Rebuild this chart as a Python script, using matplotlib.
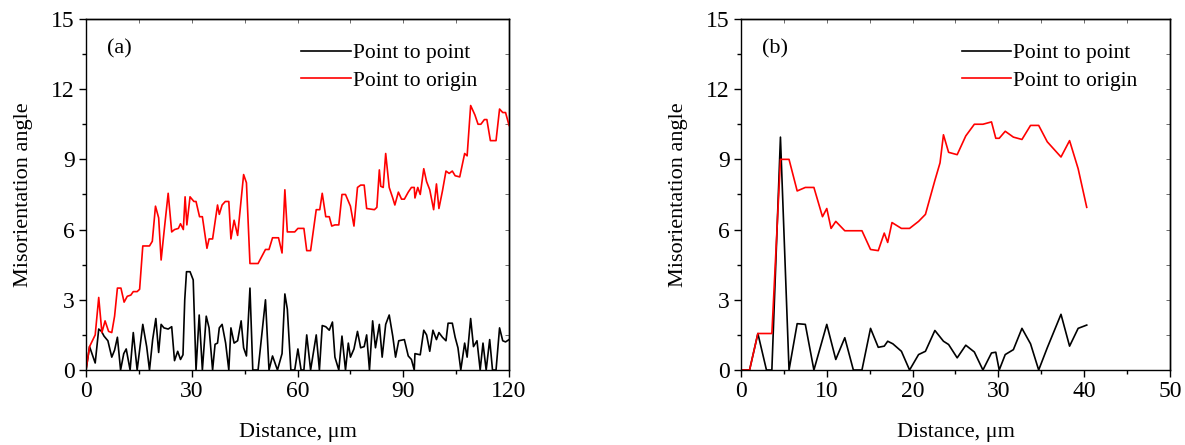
"""
Misorientation profiles along two line scans: point-to-point and
point-to-origin angles vs. distance. Writes out.png.
"""
import matplotlib
matplotlib.use("Agg")
import matplotlib.pyplot as plt
from matplotlib.ticker import MultipleLocator

plt.rcParams.update({"font.family": ["Liberation Serif", "DejaVu Serif"],
                     "font.size": 15, "axes.linewidth": 1.0})

# line scan (a)
a_p2o_x = [0, 1.0, 2.6, 3.6, 4.5, 5.4, 6.4, 7.3, 8.1, 8.9, 9.9, 10.8, 11.7, 12.7, 13.4,
           14.5, 15.2, 16.1, 18.0, 18.8, 19.7, 20.6, 21.3, 22.3, 23.3, 24.3, 25.1, 26.2,
           26.8, 27.6, 28.1, 28.6, 29.5, 30.6, 31.2, 32.2, 33.0, 34.3, 34.9, 35.9, 37.3,
           37.8, 38.6, 39.5, 40.5, 41.1, 42.0, 43.0, 44.7, 45.5, 46.5, 48.8, 50.9, 51.9,
           52.9, 54.6, 55.6, 56.4, 57.1, 59.2, 60.1, 61.8, 62.6, 63.7, 65.3, 66.3, 67.0,
           68.0, 69.0, 69.7, 70.6, 71.7, 72.6, 73.6, 75.0, 76.0, 77.0, 77.9, 78.9, 79.6,
           81.8, 82.5, 83.2, 83.6, 84.3, 85.0, 86.0, 87.0, 87.6, 88.6, 89.5, 90.3, 91.4,
           92.3, 93.1, 93.3, 94.1, 94.8, 95.8, 96.6, 97.5, 98.6, 99.4, 100.1, 101.1, 102.1,
           103.0, 103.9, 104.7, 106.0, 107.4, 108.1, 109.1, 110.3, 111.2, 112.0, 113.0,
           113.7, 114.7, 116.3, 117.3, 118.2, 119.0, 120.0]
a_p2o_y = [0, 1.0, 1.5, 3.1, 1.6, 2.1, 1.65, 1.6, 2.3, 3.5, 3.5, 2.9, 3.15, 3.2, 3.35,
           3.35, 3.45, 5.3, 5.3, 5.5, 7.0, 6.5, 4.7, 6.15, 7.55, 5.9, 6.0, 6.05,
           6.25, 6.0, 7.4, 6.2, 7.4, 7.2, 7.2, 6.55, 6.55, 5.2, 5.6, 5.6, 7.05,
           6.65, 7.05, 7.2, 7.2, 5.6, 6.4, 5.75, 8.35, 8.0, 4.55, 4.55, 5.15, 5.15,
           5.65, 5.65, 5.0, 7.7, 5.9, 5.9, 6.05, 6.05, 5.1, 5.1, 6.85, 6.85, 7.55,
           6.55, 6.55, 6.15, 6.2, 6.2, 7.5, 7.5, 7.0, 6.15, 7.8, 7.9, 7.9, 6.9,
           6.85, 6.95, 8.55, 7.85, 7.8, 9.25, 7.8, 7.35, 7.05, 7.6, 7.3, 7.3, 7.6,
           7.8, 7.8, 7.35, 7.8, 7.5, 8.6, 8.05, 7.7, 6.85, 7.95, 6.9, 7.65, 8.5,
           8.4, 8.5, 8.3, 8.25, 9.25, 9.15, 11.3, 10.9, 10.5, 10.5, 10.7,
           10.7, 9.8, 9.8, 11.15, 11.0, 11.0, 10.45]

a_p2p_x = [0, 1.0, 2.6, 3.6, 4.4, 5.1, 6.2, 7.3, 8.1, 8.9, 9.8, 10.7, 11.4, 12.5, 13.4,
           14.5, 16.1, 17.2, 18.0, 18.9, 19.8, 20.6, 21.3, 22.1, 23.3, 24.3, 25.1, 26.0,
           26.8, 27.5, 28.0, 28.5, 29.5, 30.4, 31.2, 32.1, 33.0, 34.1, 34.9, 35.9, 36.6,
           37.3, 37.8, 38.6, 39.6, 40.5, 41.1, 42.0, 43.0, 44.0, 44.7, 45.5, 46.5, 47.3,
           48.8, 50.9, 51.9, 52.9, 54.3, 55.6, 56.4, 57.1, 58.1, 59.2, 60.1, 61.0, 61.8,
           62.6, 63.7, 65.3, 66.2, 67.0, 68.0, 69.0, 69.9, 70.6, 71.7, 72.6, 73.6, 74.4,
           75.0, 76.0, 77.0, 77.9, 78.9, 79.6, 80.4, 81.3, 82.1, 83.2, 84.0, 85.0, 86.0,
           87.0, 87.8, 88.7, 90.3, 91.4, 92.3, 93.1, 93.3, 94.8, 95.8, 96.6, 97.5, 98.4,
           99.4, 100.1, 101.1, 102.1, 102.7, 103.9, 104.7, 105.5, 106.3, 107.4, 108.1,
           109.1, 109.9, 110.9, 111.8, 112.6, 113.5, 114.5, 115.3, 116.3, 117.3, 118.2,
           119.0, 120.0]
a_p2p_y = [0, 1.0, 0.3, 1.75, 1.65, 1.45, 1.25, 0.55, 0.85, 1.4, 0, 0.7, 0.9, 0, 1.6,
           0, 1.95, 1.0, 0, 1.3, 2.2, 0.75, 1.95, 1.8, 1.75, 1.85, 0.4, 0.8,
           0.45, 0.65, 3.0, 4.2, 4.2, 3.85, 0, 2.35, 0, 2.3, 1.8, 0, 1.1,
           1.15, 1.8, 1.95, 1.15, 0, 1.8, 1.15, 1.25, 2.1, 0.95, 0.6, 3.5, 0,
           0, 3.0, 0, 0.6, 0, 0.7, 3.25, 2.6, 0, 0, 0.9, 0, 0,
           1.5, 0, 1.5, 0, 1.9, 1.85, 1.7, 2.05, 0.55, 0, 1.45, 0, 1.15,
           0.55, 0.9, 1.65, 0.95, 1.0, 1.5, 0, 2.1, 0.95, 1.95, 0.55, 1.95, 2.35,
           1.45, 0.55, 1.25, 1.3, 0.6, 0.45, 0, 0.7, 0.65, 1.7, 1.5, 0.8, 1.7,
           1.3, 1.6, 1.4, 1.25, 2.0, 2.0, 1.4, 0.95, 0, 1.15, 0.55,
           2.2, 1.0, 1.25, 0, 1.15, 0, 1.3, 0, 0, 1.8, 1.25,
           1.2, 1.3]

# line scan (b)
b_p2o_x = [0, 1.0, 1.97, 3.6, 4.6, 5.6, 6.55, 7.5, 8.5, 9.5, 10.0, 10.5, 11.05, 12.1,
           14.1, 15.1, 16.0, 16.7, 17.1, 17.6, 18.7, 19.65, 20.7, 21.5, 22.6, 23.2, 23.6,
           24.2, 25.2, 26.2, 27.2, 28.2, 29.2, 29.7, 30.1, 30.8, 31.75, 32.75, 33.75,
           34.7, 35.7, 37.3, 38.3, 39.3, 40.3]
b_p2o_y = [0, 0, 1.56, 1.56, 9.0, 9.0, 7.65, 7.8, 7.8, 6.55, 6.9, 6.05, 6.35, 5.95,
           5.95, 5.15, 5.1, 5.85, 5.45, 6.3, 6.05, 6.05, 6.35, 6.65, 8.1, 8.85, 10.05,
           9.3, 9.2, 10.0, 10.5, 10.5, 10.6, 9.9, 9.9, 10.2, 9.95, 9.85, 10.45,
           10.45, 9.75, 9.1, 9.8, 8.6, 6.95]

b_p2p_x = [0, 1.0, 1.97, 2.97, 3.6, 4.6, 5.6, 6.55, 7.5, 8.5, 10.0, 11.05, 12.1, 13.1,
           14.1, 15.1, 16.0, 16.7, 17.1, 17.7, 18.7, 19.65, 20.7, 21.5, 22.6, 23.6, 24.2,
           25.2, 26.2, 27.2, 28.2, 29.2, 29.7, 30.1, 30.8, 31.75, 32.75, 33.75, 34.7,
           35.7, 37.3, 38.3, 39.3, 40.3]
b_p2p_y = [0, 0, 1.56, 0, 0, 9.95, 0, 1.98, 1.95, 0, 1.95, 0.45, 1.38, 0,
           0, 1.78, 0.97, 1.02, 1.23, 1.12, 0.8, 0, 0.66, 0.8, 1.69, 1.23, 1.09,
           0.52, 1.06, 0.77, 0, 0.73, 0.76, 0, 0.66, 0.87, 1.78, 1.12, 0,
           0.95, 2.38, 1.02, 1.78, 1.92]


def panel(ax, p2p_x, p2p_y, p2o_x, p2o_y, xmax, xmajor, tag):
    ax.plot(p2p_x, p2p_y, color="black", lw=1.2, label="Point to point")
    ax.plot(p2o_x, p2o_y, color="red", lw=1.2, label="Point to origin")
    ax.set_xlim(0, xmax); ax.set_ylim(0, 15)
    ax.xaxis.set_major_locator(MultipleLocator(xmajor))
    ax.xaxis.set_minor_locator(MultipleLocator(xmajor / 2))
    ax.yaxis.set_major_locator(MultipleLocator(3))
    ax.yaxis.set_minor_locator(MultipleLocator(1.5))
    ax.tick_params(which="both", direction="out", top=False, right=False, labelsize=17)
    ax.tick_params(which="major", length=5, width=1.0, pad=3)
    ax.tick_params(which="minor", length=3, width=1.0)
    # mirrored inner ticks on top/right
    for side in ("top", "right"):
        sec = ax.secondary_xaxis("top") if side == "top" else ax.secondary_yaxis("right")
        axis = sec.xaxis if side == "top" else sec.yaxis
        axis.set_major_locator(MultipleLocator(xmajor if side == "top" else 3))
        axis.set_minor_locator(MultipleLocator(xmajor / 2 if side == "top" else 1.5))
        sec.tick_params(which="both", direction="in", length=3, width=0.6,
                        color="#555555", labelleft=False, labelright=False,
                        labeltop=False, labelbottom=False)
    ax.set_xlabel("Distance, μm", fontsize=16, labelpad=15)
    ax.set_ylabel("Misorientation angle", fontsize=16, labelpad=13)
    ax.text(0.05, 0.915, tag, transform=ax.transAxes, fontsize=16, va="center")
    ax.legend(loc="upper right", bbox_to_anchor=(0.945, 0.955), frameon=False, fontsize=15.5,
              handlelength=2.3, handletextpad=0.1, labelspacing=0.35, borderaxespad=0)


fig = plt.figure(figsize=(11.85, 4.45), dpi=100)
ax_a = fig.add_axes([0.0726, 0.1685, 0.357, 0.789])
ax_b = fig.add_axes([0.6253, 0.1685, 0.362, 0.789])
panel(ax_a, a_p2p_x, a_p2p_y, a_p2o_x, a_p2o_y, 120, 30, "(a)")
panel(ax_b, b_p2p_x, b_p2p_y, b_p2o_x, b_p2o_y, 50, 10, "(b)")
fig.savefig("out.png", dpi=100)
